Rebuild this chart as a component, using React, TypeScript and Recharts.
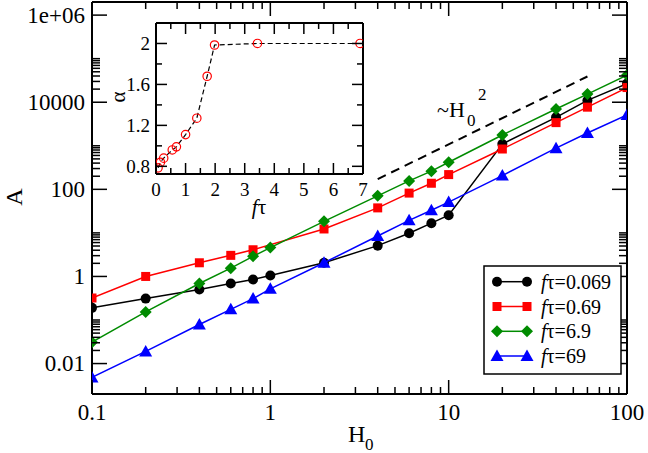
import React from "react";
import { ScatterChart, Scatter, XAxis, YAxis } from "recharts";

// main panel: A vs H0, one series per f*tau
const H0_VALUES = [0.1, 0.2, 0.4, 0.6, 0.8, 1, 2, 4, 6, 8, 10, 20, 40, 60, 100];
const H0_VALUES_RED = [0.1, 0.2, 0.4, 0.6, 0.8, 2, 4, 6, 8, 10, 20, 40, 60, 100];
const A_FT_0069 = [0.19, 0.31, 0.5, 0.69, 0.85, 1.05, 2.06, 5.1, 9.8, 16.7, 25.5, 1100, 4500, 11000, 26800];
const A_FT_069 = [0.32, 1.0, 2.06, 3.05, 4.1, 12.3, 37.5, 82, 138, 218, 843, 3400, 7700, 21700];
const A_FT_69 = [0.031, 0.153, 0.69, 1.55, 2.9, 4.6, 18.4, 71, 156, 261, 418, 1770, 7000, 15400, 42000];
const A_FT_690 = [0.0048, 0.019, 0.079, 0.176, 0.31, 0.52, 2.06, 8.5, 19.4, 33, 51, 207, 880, 1960, 5100];

// ~H0^2 guide
const GUIDE_H0 = [4, 60];
const GUIDE_A = [172, 39000];

// inset: alpha vs f*tau
const FT_VALUES = [0.07, 0.15, 0.26, 0.55, 0.69, 1.0, 1.38, 1.73, 1.98, 3.43, 6.9];
const ALPHA_VALUES = [0.785, 0.84, 0.88, 0.96, 0.99, 1.11, 1.27, 1.68, 1.985, 2.0, 2.0];

// ticks
const X_MAJOR = [0.1, 1, 10, 100];
const X_LABELS = ["0.1", "1", "10", "100"];
const Y_MAJOR = [0.01, 1, 100, 10000, 1e6];
const Y_LABELS = ["0.01", "1", "100", "10000", "1e+06"];
const X_TICKS = [...X_MAJOR, ...[0.1, 1, 10].flatMap((d) => [2, 3, 4, 5, 6, 7, 8, 9].map((k) => k * d))];
const Y_TICKS = [...Y_MAJOR, ...[0.01, 1, 100, 10000].flatMap((d) => [2, 3, 4, 5, 6, 7, 8, 9, 10].map((k) => k * d))];

const IN_X_MAJOR = [0, 1, 2, 3, 4, 5, 6, 7];
const IN_X_LABELS = ["0", "1", "2", "3", "4", "5", "6", "7"];
const IN_X_TICKS = [...IN_X_MAJOR, 0.5, 1.5, 2.5, 3.5, 4.5, 5.5, 6.5];
const IN_Y_MAJOR = [0.8, 1.2, 1.6, 2];
const IN_Y_LABELS = ["0.8", "1.2", "1.6", "2"];
const IN_Y_TICKS = [...IN_Y_MAJOR, 1.0, 1.4, 1.8];

const FONT = "'Liberation Serif', 'Times New Roman', serif";
const GREEN = "#008b00";

const zip = (xs: number[], ys: number[]) => xs.map((x, i) => ({ x, y: ys[i] }));

type Side = "bottom" | "top" | "left" | "right";

const makeTick =
  (side: Side, majors: number[], labels: string[], majorLen: number, minorLen: number, fontSize: number, gap: number) =>
  (props: any) => {
    const { x, y, payload } = props;
    const v = payload.value;
    const idx = majors.findIndex((m) => Math.abs(m - v) <= Math.abs(m) * 1e-9 + 1e-12);
    const len = idx >= 0 ? majorLen : minorLen;
    const dx = side === "left" ? len : side === "right" ? -len : 0;
    const dy = side === "bottom" ? -len : side === "top" ? len : 0;
    return (
      <g>
        <line x1={x} y1={y} x2={x + dx} y2={y + dy} stroke="#000" strokeWidth={1.5} />
        {idx >= 0 && side === "bottom" && (
          <text x={x} y={y + gap} textAnchor="middle" dominantBaseline="central" fontSize={fontSize} fontFamily={FONT} fill="#000">
            {labels[idx]}
          </text>
        )}
        {idx >= 0 && side === "left" && (
          <text x={x - gap} y={y} textAnchor="end" dominantBaseline="central" fontSize={fontSize} fontFamily={FONT} fill="#000">
            {labels[idx]}
          </text>
        )}
      </g>
    );
  };

const marker = (kind: string, color: string, cx: number, cy: number) => {
  if (kind === "circle") return <circle cx={cx} cy={cy} r={5} fill={color} />;
  if (kind === "square") return <rect x={cx - 4.5} y={cy - 4.5} width={9} height={9} fill={color} />;
  if (kind === "diamond")
    return <polygon points={`${cx},${cy - 6} ${cx + 6},${cy} ${cx},${cy + 6} ${cx - 6},${cy}`} fill={color} />;
  return <polygon points={`${cx},${cy - 6.5} ${cx + 6.5},${cy + 5} ${cx - 6.5},${cy + 5}`} fill={color} />;
};

const SERIES = [
  { label: "=0.069", data: zip(H0_VALUES, A_FT_0069), color: "#000000", kind: "circle" },
  { label: "=0.69", data: zip(H0_VALUES_RED, A_FT_069), color: "#ff0000", kind: "square" },
  { label: "=6.9", data: zip(H0_VALUES, A_FT_69), color: GREEN, kind: "diamond" },
  { label: "=69", data: zip(H0_VALUES, A_FT_690), color: "#0000ff", kind: "triangle" },
];

const axisLine = { stroke: "#000", strokeWidth: 2 };

const MainChart = () => (
  <ScatterChart width={648} height={453} margin={{ top: 1, right: 20, bottom: 29, left: 32 }}>
    <XAxis
      xAxisId="b"
      dataKey="x"
      type="number"
      scale="log"
      domain={[0.1, 100]}
      allowDataOverflow
      ticks={X_TICKS}
      interval={0}
      height={30}
      tickSize={0}
      tickMargin={0}
      tickLine={false}
      axisLine={axisLine}
      tick={makeTick("bottom", X_MAJOR, X_LABELS, 14, 7, 23, 18)}
    />
    <XAxis
      xAxisId="t"
      orientation="top"
      dataKey="x"
      type="number"
      scale="log"
      domain={[0.1, 100]}
      allowDataOverflow
      ticks={X_TICKS}
      interval={0}
      height={1}
      tickSize={0}
      tickMargin={0}
      tickLine={false}
      axisLine={axisLine}
      tick={makeTick("top", X_MAJOR, X_LABELS, 14, 7, 23, 18)}
    />
    <YAxis
      yAxisId="l"
      dataKey="y"
      type="number"
      scale="log"
      domain={[0.002, 2e6]}
      allowDataOverflow
      ticks={Y_TICKS}
      interval={0}
      width={60}
      tickSize={0}
      tickMargin={0}
      tickLine={false}
      axisLine={axisLine}
      tick={makeTick("left", Y_MAJOR, Y_LABELS, 15, 8, 23, 7)}
    />
    <YAxis
      yAxisId="r"
      orientation="right"
      dataKey="y"
      type="number"
      scale="log"
      domain={[0.002, 2e6]}
      allowDataOverflow
      ticks={Y_TICKS}
      interval={0}
      width={1}
      tickSize={0}
      tickMargin={0}
      tickLine={false}
      axisLine={axisLine}
      tick={makeTick("right", Y_MAJOR, Y_LABELS, 15, 8, 23, 7)}
    />
    <Scatter
      xAxisId="b"
      yAxisId="l"
      data={zip(GUIDE_H0, GUIDE_A)}
      line={{ stroke: "#000", strokeWidth: 2, strokeDasharray: "9 6" }}
      shape={() => <g />}
      isAnimationActive={false}
    />
    {SERIES.map((s) => (
      <Scatter
        key={s.label}
        xAxisId="b"
        yAxisId="l"
        data={s.data}
        line={{ stroke: s.color, strokeWidth: 1.5 }}
        shape={(p: any) => marker(s.kind, s.color, p.cx, p.cy)}
        isAnimationActive={false}
      />
    ))}
  </ScatterChart>
);

const InsetChart = () => (
  <ScatterChart width={270} height={200} margin={{ top: 9, right: 6, bottom: 19, left: 16 }}>
    <XAxis
      xAxisId="b"
      dataKey="x"
      type="number"
      domain={[0, 7]}
      allowDataOverflow
      ticks={IN_X_TICKS}
      interval={0}
      height={20}
      tickSize={0}
      tickMargin={0}
      tickLine={false}
      axisLine={axisLine}
      tick={makeTick("bottom", IN_X_MAJOR, IN_X_LABELS, 11, 6, 19, 15.5)}
    />
    <XAxis
      xAxisId="t"
      orientation="top"
      dataKey="x"
      type="number"
      domain={[0, 7]}
      allowDataOverflow
      ticks={IN_X_TICKS}
      interval={0}
      height={1}
      tickSize={0}
      tickMargin={0}
      tickLine={false}
      axisLine={axisLine}
      tick={makeTick("top", IN_X_MAJOR, IN_X_LABELS, 11, 6, 19, 15)}
    />
    <YAxis
      yAxisId="l"
      dataKey="y"
      type="number"
      domain={[0.725, 2.2]}
      allowDataOverflow
      ticks={IN_Y_TICKS}
      interval={0}
      width={40}
      tickSize={0}
      tickMargin={0}
      tickLine={false}
      axisLine={axisLine}
      tick={makeTick("left", IN_Y_MAJOR, IN_Y_LABELS, 11, 6, 19, 6)}
    />
    <YAxis
      yAxisId="r"
      orientation="right"
      dataKey="y"
      type="number"
      domain={[0.725, 2.2]}
      allowDataOverflow
      ticks={IN_Y_TICKS}
      interval={0}
      width={1}
      tickSize={0}
      tickMargin={0}
      tickLine={false}
      axisLine={axisLine}
      tick={makeTick("right", IN_Y_MAJOR, IN_Y_LABELS, 11, 6, 19, 6)}
    />
    <Scatter
      xAxisId="b"
      yAxisId="l"
      data={zip(FT_VALUES, ALPHA_VALUES)}
      line={{ stroke: "#000", strokeWidth: 1.2, strokeDasharray: "5 3" }}
      shape={(p: any) => <circle cx={p.cx} cy={p.cy} r={4.2} fill="none" stroke="#ff0000" strokeWidth={1.2} />}
      isAnimationActive={false}
    />
  </ScatterChart>
);

const LEGEND_ROWS_Y = [281.7, 306.5, 331.3, 356];

const Overlay = () => (
  <svg width={648} height={453} style={{ position: "absolute", left: 0, top: 0, pointerEvents: "none" }} fontFamily={FONT}>
    {/* axis titles */}
    <text x={14} y={197} transform="rotate(-90 14 197)" textAnchor="middle" dominantBaseline="central" fontSize={24}>
      A
    </text>
    <text x={348} y={442} fontSize={24}>
      H
    </text>
    <text x={365} y={450} fontSize={17}>
      0
    </text>
    {/* slope guide label */}
    <text x={437} y={117} fontSize={22}>
      ~H
    </text>
    <text x={467} y={126} fontSize={17}>
      0
    </text>
    <text x={478} y={100} fontSize={17}>
      2
    </text>
    {/* inset titles */}
    <text x={118} y={97} transform="rotate(-90 118 97)" textAnchor="middle" dominantBaseline="central" fontSize={21}>
      α
    </text>
    <text x={259} y={214} textAnchor="middle" fontSize={21}>
      <tspan fontStyle="italic">f</tspan>τ
    </text>
    {/* legend */}
    <rect x={484} y={266} width={137} height={108} fill="#fff" stroke="#000" strokeWidth={1.5} />
    {SERIES.map((s, i) => {
      const y = LEGEND_ROWS_Y[i];
      return (
        <g key={s.label}>
          <line x1={497} y1={y} x2={527} y2={y} stroke={s.color} strokeWidth={1.5} />
          {marker(s.kind, s.color, 497, y)}
          {marker(s.kind, s.color, 527, y)}
          <text x={541} y={y} dominantBaseline="central" fontSize={20}>
            <tspan fontStyle="italic">f</tspan>τ{s.label}
          </text>
        </g>
      );
    })}
  </svg>
);

export default function App() {
  return (
    <div style={{ position: "absolute", left: 0, top: 0, width: 648, height: 453, background: "#fff" }}>
      <MainChart />
      <div style={{ position: "absolute", left: 100, top: 13 }}>
        <InsetChart />
      </div>
      <Overlay />
    </div>
  );
}
